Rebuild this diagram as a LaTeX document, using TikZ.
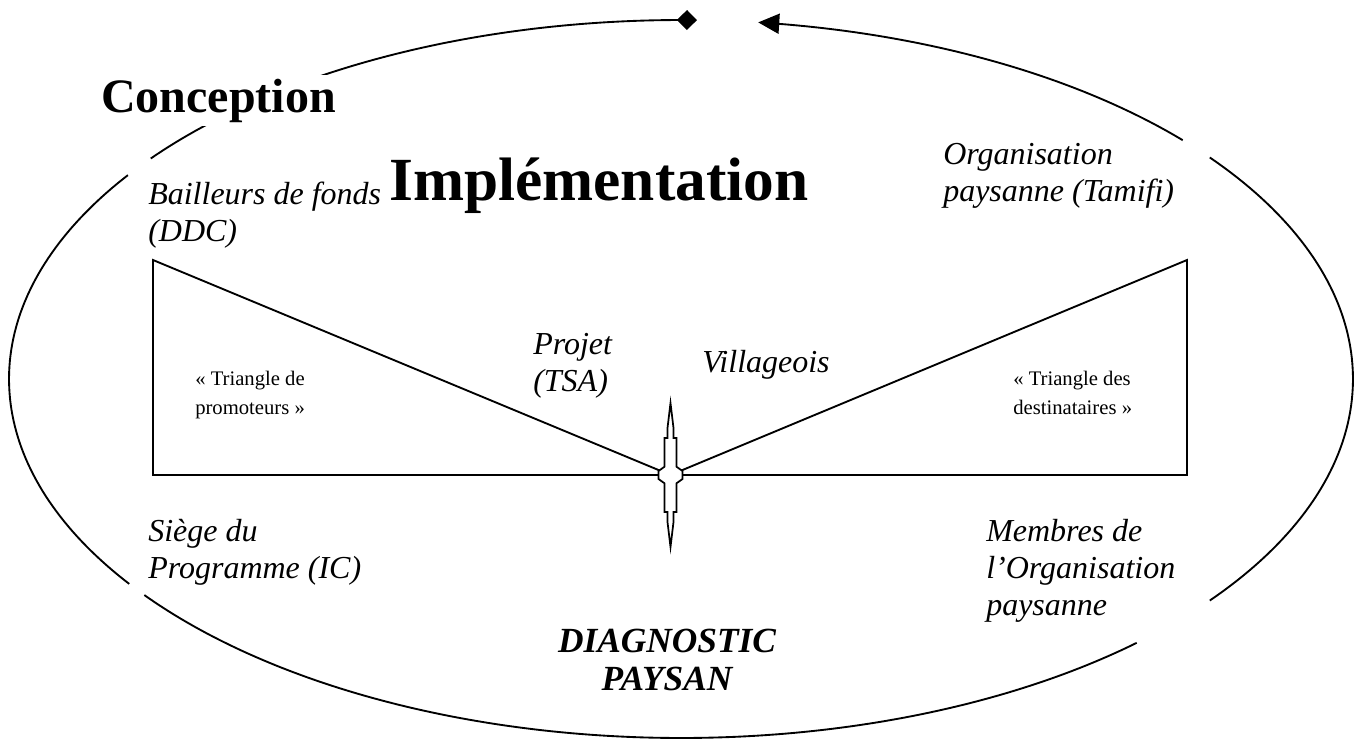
\documentclass[tikz,border=0pt]{standalone}
\usepackage{fontspec}
\setmainfont{Liberation Serif}
\usetikzlibrary{arrows.meta}
\begin{document}
\begin{tikzpicture}[x=0.75pt,y=-0.75pt,
  ell/.style={line width=1.4pt},
  tri/.style={line width=1.4pt, line join=miter},
  lbl/.style={inner sep=0pt, anchor=base west, align=left,
    font=\fontsize{24pt}{27.5pt}\selectfont\itshape},
  smalllbl/.style={inner sep=0pt, anchor=base west, align=left,
    font=\fontsize{15.5pt}{21.5pt}\selectfont},
  titlelbl/.style={anchor=base west, fill=white, inner sep=3pt,
    font=\fontsize{36pt}{40pt}\selectfont\bfseries},
  diaglbl/.style={inner sep=0pt, anchor=base, align=center,
    font=\fontsize{26.5pt}{28.5pt}\selectfont\bfseries\itshape}]
\useasboundingbox (0,0) rectangle (1364,740);
% ellipse pieces
\draw[ell,{Triangle[length=15.75pt,width=15pt]}-] plot[domain=-83.4:-41.7,samples=80] ({681+672*cos(\x)},{379+359*sin(\x)});
\draw[ell] plot[domain=-38.1:38.1,samples=80] ({681+672*cos(\x)},{379+359*sin(\x)});
\draw[ell] plot[domain=47.3:143,samples=120] ({681+672*cos(\x)},{379+359*sin(\x)});
\draw[ell] plot[domain=145.2:214.6,samples=80] ({681+672*cos(\x)},{379+359*sin(\x)});
\draw[ell,-{Diamond[length=15pt,width=15pt]}] plot[domain=217.9:271.36,samples=80] ({681+672*cos(\x)},{379+359*sin(\x)});
% triangles
\coordinate (c) at (670.5,475);
\coordinate (lt) at (153,260);
\coordinate (lb) at (153,475);
\coordinate (rt) at (1187,260);
\coordinate (rb) at (1187,475);
\draw[tri] (lt) -- (lb) -- (c) -- cycle;
\draw[tri] (rt) -- (rb) -- (c) -- cycle;
% central emblem
\draw[line width=1.3pt, fill=white, shift={(c)}]
  (0,-72) .. controls (1,-60) .. (3,-47) -- (3,-37) -- (6,-37) -- (6,-8.3)
  -- (12,-4) -- (12,4) -- (6,8.3) -- (6,37) -- (3,37) -- (3,47)
  .. controls (1,60) .. (0,72) .. controls (-1,60) .. (-3,47)
  -- (-3,37) -- (-6,37) -- (-6,8.3) -- (-12,4) -- (-12,-4) -- (-6,-8.3)
  -- (-6,-37) -- (-3,-37) -- (-3,-47) .. controls (-1,-60) .. (0,-72) -- cycle;
% texts
\node[titlelbl] (conc) at (97,112) {Conception};
\node[titlelbl, font=\fontsize{46pt}{50pt}\selectfont\bfseries] (impl) at (385,200) {Implémentation};
\node[lbl] (bail) at (148,241) {Bailleurs de fonds\\(DDC)};
\node[lbl] (orga) at (943,201) {Organisation\\paysanne (Tamifi)};
\node[lbl] (proj) at (533,391) {Projet\\(TSA)};
\node[lbl] (vill) at (702,372) {Villageois};
\node[smalllbl] (tprom) at (195,414) {« Triangle de\\promoteurs »};
\node[smalllbl] (tdest) at (1013,414) {« Triangle des\\destinataires »};
\node[lbl] (siege) at (148,578) {Siège du\\Programme (IC)};
\node[diaglbl] (diag) at (667,690) {DIAGNOSTIC\\PAYSAN};
\node[lbl] (memb) at (986,615) {Membres de\\l’Organisation\\paysanne};
\end{tikzpicture}
\end{document}
